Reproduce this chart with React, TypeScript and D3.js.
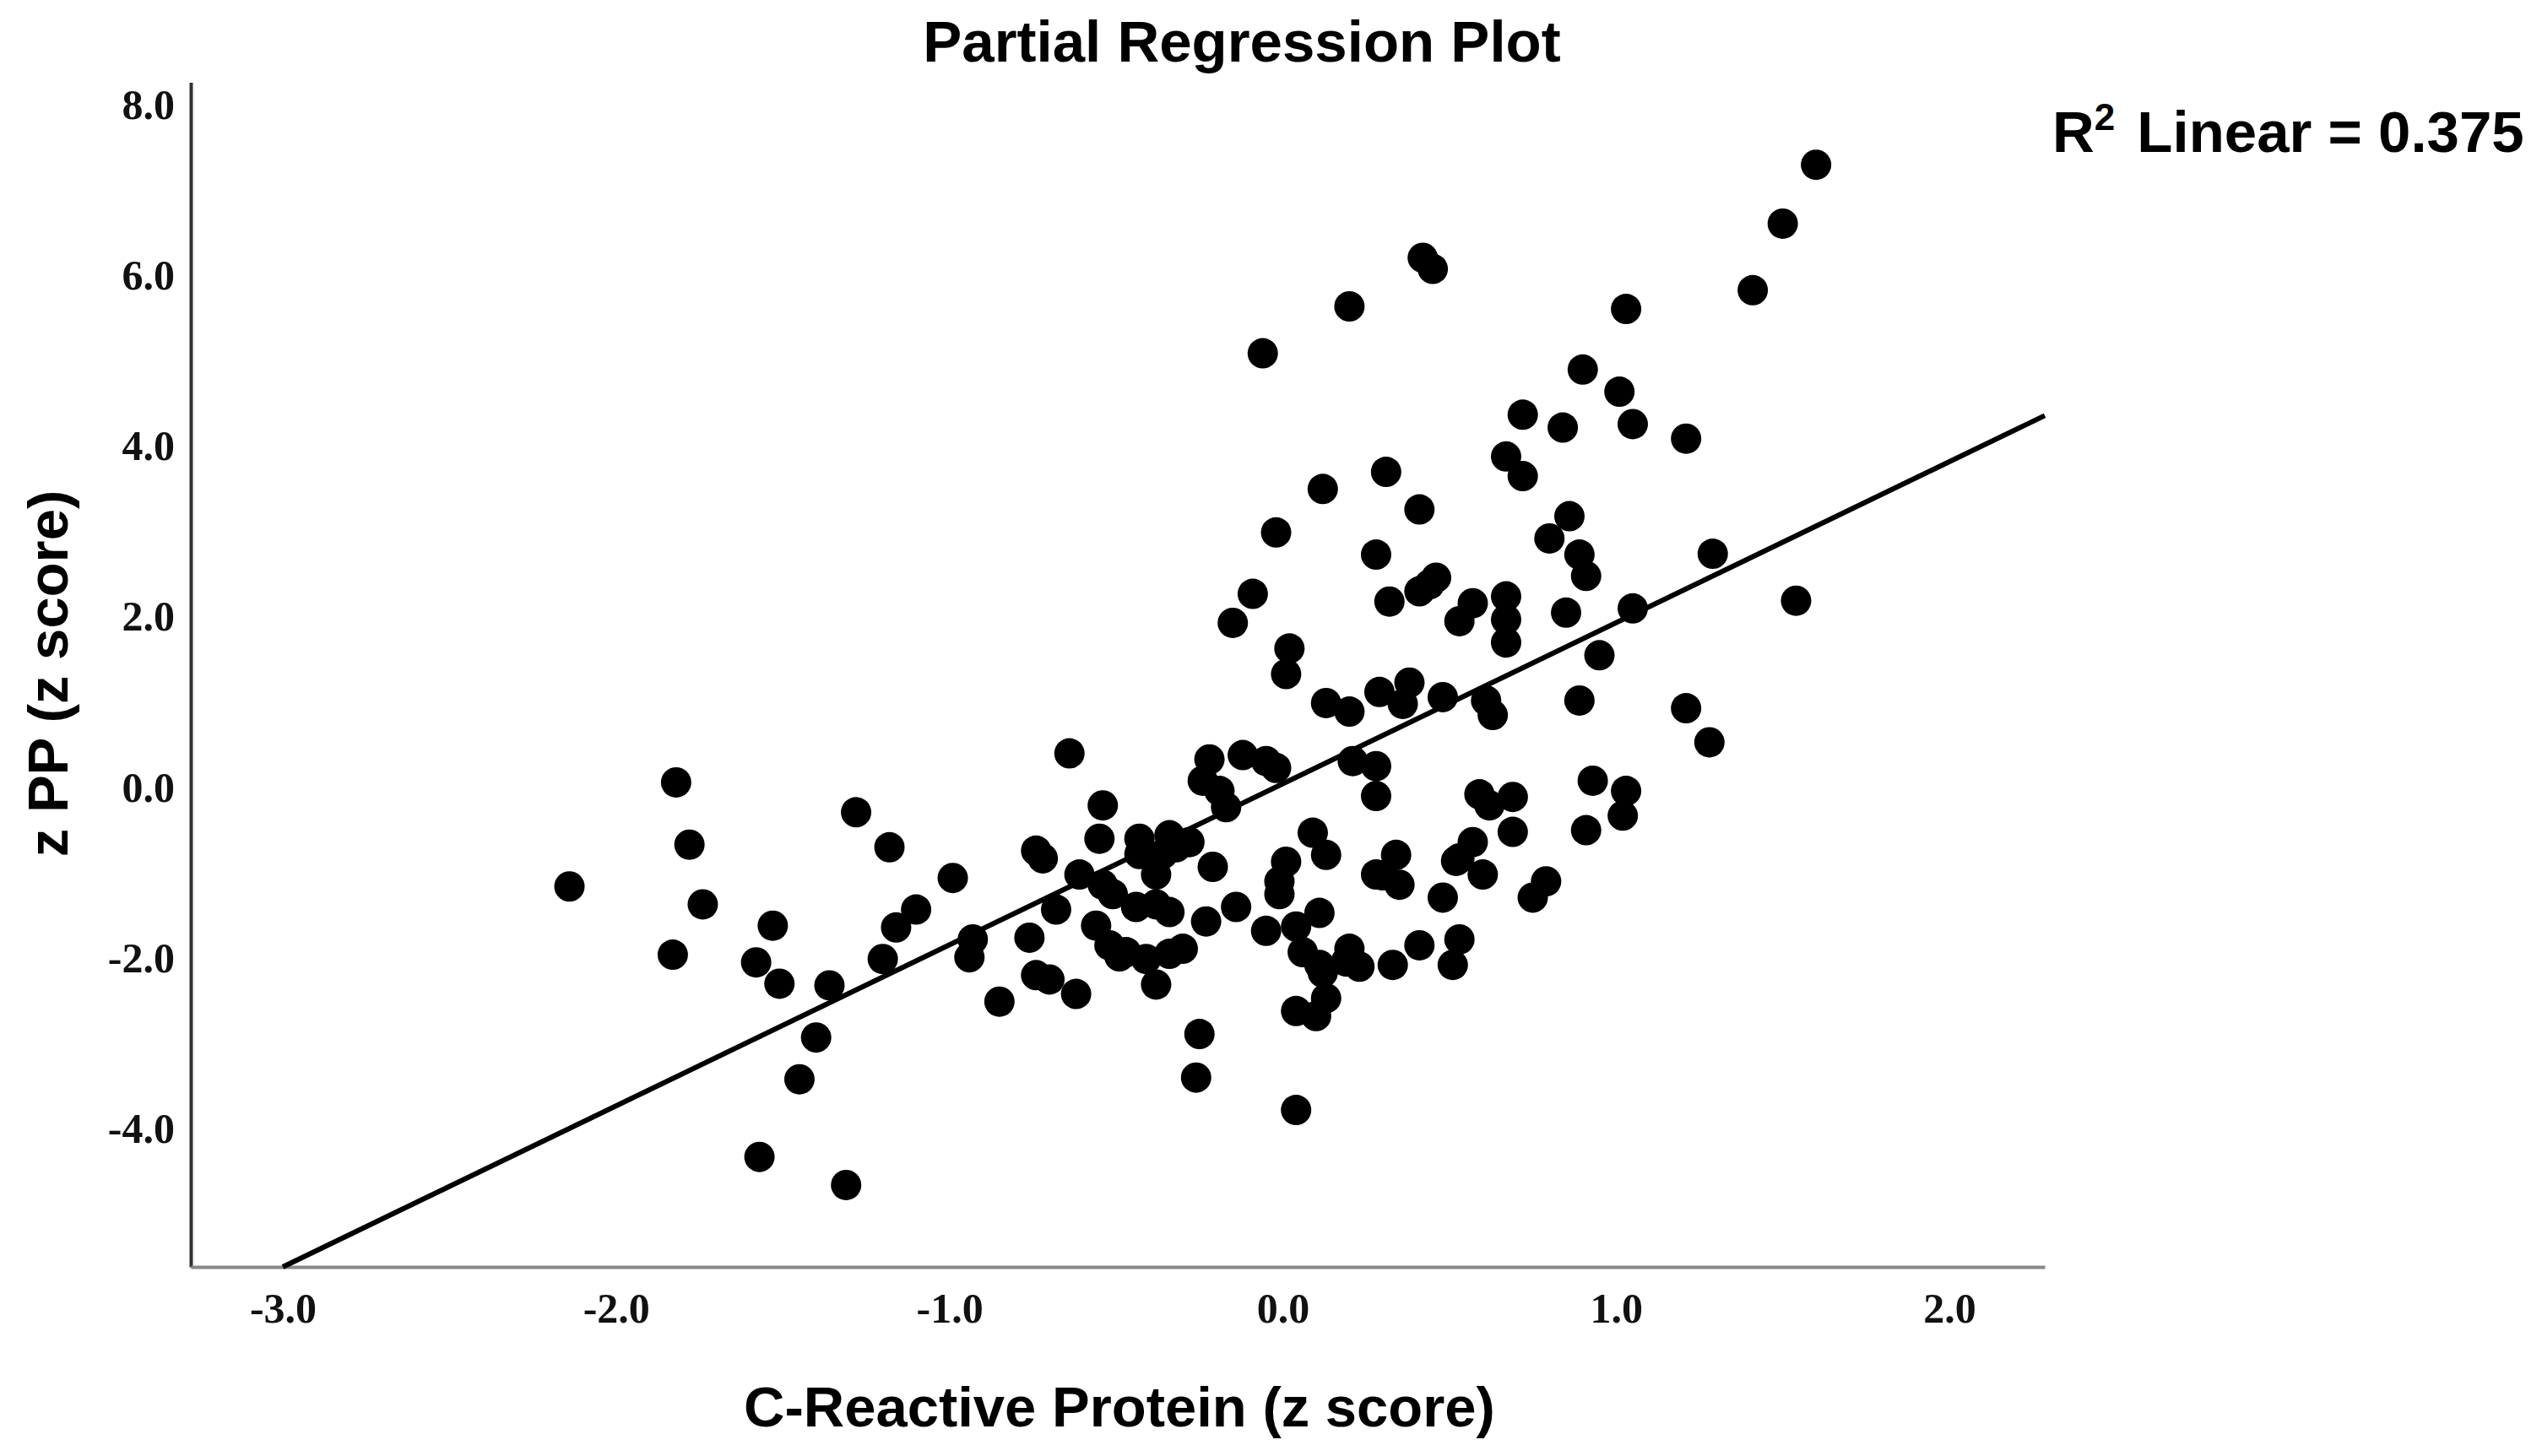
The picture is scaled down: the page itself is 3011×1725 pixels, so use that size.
import React, { useEffect, useRef } from "react";
import * as d3 from "d3";

// C-Reactive Protein (z score), partial residuals
const crpValues = [
  -2.14, -1.82, -1.78, -1.74, -1.83, -1.58, -1.53, -1.51, -1.45, -1.57,
  -1.4, -1.36, -1.31, -1.28, -1.18, -1.2, -1.16, -1.1, -0.99, -0.94,
  -0.93, -0.85, -0.76, -0.74, -0.72, -0.74, -0.7, -0.68, -0.64, -0.62,
  -0.61, -0.56, -0.55, -0.54, -0.54, -0.52, -0.51, -0.47, -0.44, -0.43,
  -0.43, -0.41, -0.38, -0.38, -0.38, -0.36, -0.34, -0.34, -0.34, -0.32,
  -0.3, -0.28, -0.25, -0.26, -0.24, -0.23, -0.22, -0.21, -0.19, -0.17,
  -0.14, -0.15, -0.12, -0.09, -0.05, -0.05, -0.02, -0.06, -0.02, 0.01,
  0.02, 0.01, -0.01, -0.01, 0.04, 0.06, 0.04, 0.1, 0.04, 0.09,
  0.11, 0.11, 0.13, 0.13, 0.13, 0.12, 0.2, 0.19, 0.2, 0.21,
  0.2, 0.28, 0.28, 0.28, 0.28, 0.29, 0.32, 0.31, 0.34, 0.35,
  0.33, 0.36, 0.38, 0.41, 0.41, 0.44, 0.41, 0.42, 0.45, 0.46,
  0.48, 0.48, 0.51, 0.53, 0.53, 0.53, 0.57, 0.57, 0.59, 0.6,
  0.61, 0.63, 0.67, 0.67, 0.67, 0.69, 0.69, 0.67, 0.72, 0.72,
  0.75, 0.79, 0.8, 0.84, 0.85, 0.86, 0.89, 0.91, 0.89, 0.93,
  0.91, 0.95, 0.9, 1.01, 1.03, 1.05, 1.05, 1.03, 1.02, 1.21,
  1.21, 1.29, 1.28, 1.41, 1.5, 1.54, 1.6, 0.23, 0.62, 0.52,
  -0.49, 0.12, 0.3,
];

// z PP (z score), partial residuals
const ppValues = [
  -1.16, 0.06, -0.67, -1.37, -1.96, -2.05, -1.62, -2.3, -3.42, -4.33,
  -2.93, -2.32, -4.66, -0.29, -0.7, -2.01, -1.64, -1.43, -1.06, -1.99,
  -1.78, -2.51, -1.76, -0.74, -0.83, -2.2, -2.25, -1.43, 0.4, -2.42,
  -1.02, -1.62, -0.6, -0.21, -1.14, -1.85, -1.25, -1.93, -1.4, -0.6,
  -0.78, -2.01, -1.37, -1.02, -2.31, -0.78, -0.56, -1.46, -1.95, -0.7,
  -1.89, -0.64, -2.89, -3.4, 0.08, -1.57, 0.33, -0.93, -0.04, -0.23,
  -1.4, 1.93, 0.38, 2.27, 0.31, -1.68, 0.23, 5.09, 2.99, 1.33,
  1.63, -0.87, -1.1, -1.25, -1.63, -1.93, -2.62, -2.68, -3.78, -0.53,
  -1.47, -2.08, -0.79, 0.99, -2.47, 3.5, 0.89, -2.04, -1.89, 0.31,
  5.64, 0.25, -0.1, 2.73, -1.02, 1.12, 2.18, 3.7, -0.79, -1.14,
  -2.08, 0.98, 1.23, 3.26, 2.3, 2.38, -1.85, 6.21, 6.08, 2.46,
  1.06, -1.29, -2.08, 1.95, -0.83, -1.78, 2.16, -0.64, -0.08, -1.02,
  1.02, 0.85, 2.24, 1.97, 1.7, -0.11, -0.52, 3.88, 3.65, 4.37,
  -1.29, -1.1, 2.92, 4.22, 2.05, 3.18, 2.73, 2.48, 1.02, 0.08,
  -0.5, 1.55, 4.9, 4.64, 5.61, 4.26, 2.1, -0.04, -0.33, 4.09,
  0.93, 2.74, 0.53, 5.83, 6.61, 2.19, 7.3, -2.1, -0.21, -0.86,
  -1.98, -2.17, -1.03,
];

const xTicks = [-3, -2, -1, 0, 1, 2];
const yTicks = [-4, -2, 0, 2, 4, 6, 8];

// fit line: R2 Linear = 0.375
const fitIntercept = 0.044;
const fitSlope = 1.888;
const rSquared = "0.375";

const W = 3011;
const H = 1725;

const fmt = (d: d3.NumberValue) => (+d).toFixed(1);

const App: React.FC = () => {
  const svgRef = useRef<SVGSVGElement>(null);

  useEffect(() => {
    if (!svgRef.current) return;
    const svg = d3.select(svgRef.current);
    svg.selectAll("*").remove();

    const x = d3.scaleLinear().domain([-3.276, 2.286]).range([226, 2422]);
    const y = d3.scaleLinear().domain([-5.62, 8.266]).range([1501, 97.6]);

    svg.append("rect").attr("width", W).attr("height", H).attr("fill", "#fff");

    const serif = "'Liberation Serif', 'Times New Roman', serif";

    // y axis
    const yAxis = svg.append("g").attr("transform", `translate(${x.range()[0]},0)`)
      .call(d3.axisLeft(y).tickValues(yTicks).tickSize(0).tickPadding(19).tickFormat(fmt));
    yAxis.select(".domain").attr("stroke", "#333").attr("stroke-width", 4);
    yAxis.selectAll("text")
      .attr("font-family", serif)
      .attr("font-weight", "bold")
      .attr("font-size", 50)
      .attr("fill", "#111");

    // x axis
    const xAxis = svg.append("g").attr("transform", `translate(0,${y.range()[0]})`)
      .call(d3.axisBottom(x).tickValues(xTicks).tickSize(0).tickPadding(30).tickFormat(fmt));
    xAxis.select(".domain").attr("stroke", "#888").attr("stroke-width", 4);
    xAxis.selectAll("text")
      .attr("font-family", serif)
      .attr("font-weight", "bold")
      .attr("font-size", 50)
      .attr("fill", "#111");

    // points
    const pts = crpValues.map((v, i) => ({ x: v, y: ppValues[i] }));
    svg.append("g").selectAll("circle")
      .data(pts)
      .enter()
      .append("circle")
      .attr("cx", d => x(d.x))
      .attr("cy", d => y(d.y))
      .attr("r", 18)
      .attr("fill", "#000");

    // fit line, clipped at the bottom of the plot
    const x0 = Math.max(x.domain()[0], (y.domain()[0] - fitIntercept) / fitSlope);
    const x1 = x.domain()[1];
    const line = d3.line<number>().x(d => x(d)).y(d => y(fitIntercept + fitSlope * d));
    svg.append("path")
      .attr("d", line([x0, x1]))
      .attr("fill", "none")
      .attr("stroke", "#000")
      .attr("stroke-width", 6);

    const sans = "'Liberation Sans', Arial, sans-serif";

    svg.append("text")
      .attr("x", 1471).attr("y", 73)
      .attr("text-anchor", "middle")
      .attr("font-family", sans).attr("font-weight", "bold").attr("font-size", 69)
      .text("Partial Regression Plot");

    svg.append("text")
      .attr("x", 1326).attr("y", 1690)
      .attr("text-anchor", "middle")
      .attr("font-family", sans).attr("font-weight", "bold").attr("font-size", 67)
      .text("C-Reactive Protein (z score)");

    svg.append("text")
      .attr("transform", "translate(80,798) rotate(-90)")
      .attr("text-anchor", "middle")
      .attr("font-family", sans).attr("font-weight", "bold").attr("font-size", 67)
      .text("z PP (z score)");

    const r2 = svg.append("text")
      .attr("x", 2431).attr("y", 180)
      .attr("font-family", sans).attr("font-weight", "bold").attr("font-size", 69);
    r2.append("tspan").text("R");
    r2.append("tspan").attr("font-size", 44).attr("dy", -26).text("2");
    r2.append("tspan").attr("dy", 26).attr("dx", 26).text(`Linear = ${rSquared}`);
  }, []);

  return (
    <svg
      ref={svgRef}
      width={W}
      height={H}
      style={{ position: "absolute", left: 0, top: 0, display: "block" }}
    />
  );
};

export default App;
